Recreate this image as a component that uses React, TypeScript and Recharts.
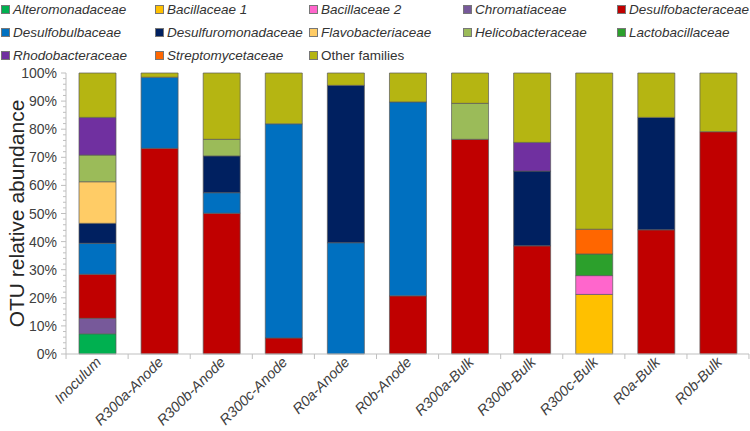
import { BarChart, Bar, XAxis, YAxis } from 'recharts'

const categories = [
    'Inoculum',
    'R300a-Anode',
    'R300b-Anode',
    'R300c-Anode',
    'R0a-Anode',
    'R0b-Anode',
    'R300a-Bulk',
    'R300b-Bulk',
    'R300c-Bulk',
    'R0a-Bulk',
    'R0b-Bulk',
]

// percent of OTUs, one value per category
const alteromonadaceae = [7.2, 0, 0, 0, 0, 0, 0, 0, 0, 0, 0]
const bacillaceae1 = [0, 0, 0, 0, 0, 0, 0, 0, 21.2, 0, 0]
const bacillaceae2 = [0, 0, 0, 0, 0, 0, 0, 0, 6.7, 0, 0]
const chromatiaceae = [5.5, 0, 0, 0, 0, 0, 0, 0, 0, 0, 0]
const desulfobacteraceae = [15.7, 73.2, 50.1, 5.7, 0, 20.7, 76.4, 38.5, 0, 44.2, 79.1]
const desulfobulbaceae = [11, 25.3, 7.3, 76.2, 39.6, 69, 0, 0, 0, 0, 0]
const desulfuromonadaceae = [7.1, 0, 13.1, 0, 56, 0, 0, 26.6, 0, 40, 0]
const flavobacteriaceae = [14.8, 0, 0, 0, 0, 0, 0, 0, 0, 0, 0]
const helicobacteraceae = [9.5, 0, 5.9, 0, 0, 0, 12.8, 0, 0, 0, 0]
const lactobacillaceae = [0, 0, 0, 0, 0, 0, 0, 0, 7.7, 0, 0]
const rhodobacteraceae = [13.4, 0, 0, 0, 0, 0, 0, 10.2, 0, 0, 0]
const streptomycetaceae = [0, 0, 0, 0, 0, 0, 0, 0, 8.8, 0, 0]
const otherFamilies = [15.8, 1.5, 23.6, 18.1, 4.4, 10.3, 10.8, 24.7, 55.6, 15.8, 20.9]

const yTicks = Array.from({ length: 51 }, (_, i) => i * 2)

const series = [
    { key: 'alteromonadaceae', name: 'Alteromonadaceae', values: alteromonadaceae, color: '#00B050', italic: true },
    { key: 'bacillaceae1', name: 'Bacillaceae 1', values: bacillaceae1, color: '#FFC000', italic: true },
    { key: 'bacillaceae2', name: 'Bacillaceae 2', values: bacillaceae2, color: '#FF66CC', italic: true },
    { key: 'chromatiaceae', name: 'Chromatiaceae', values: chromatiaceae, color: '#77599A', italic: true },
    { key: 'desulfobacteraceae', name: 'Desulfobacteraceae', values: desulfobacteraceae, color: '#C00000', italic: true },
    { key: 'desulfobulbaceae', name: 'Desulfobulbaceae', values: desulfobulbaceae, color: '#0070C0', italic: true },
    { key: 'desulfuromonadaceae', name: 'Desulfuromonadaceae', values: desulfuromonadaceae, color: '#002060', italic: true },
    { key: 'flavobacteriaceae', name: 'Flavobacteriaceae', values: flavobacteriaceae, color: '#FFCC66', italic: true },
    { key: 'helicobacteraceae', name: 'Helicobacteraceae', values: helicobacteraceae, color: '#9BBB59', italic: true },
    { key: 'lactobacillaceae', name: 'Lactobacillaceae', values: lactobacillaceae, color: '#2CA02C', italic: true },
    { key: 'rhodobacteraceae', name: 'Rhodobacteraceae', values: rhodobacteraceae, color: '#7030A0', italic: true },
    { key: 'streptomycetaceae', name: 'Streptomycetaceae', values: streptomycetaceae, color: '#FF6600', italic: true },
    { key: 'other', name: 'Other families', values: otherFamilies, color: '#B5B512', italic: false },
]

const data = categories.map((name, i) => {
    const row: Record<string, string | number> = { name }
    series.forEach((s) => {
        row[s.key] = s.values[i]
    })
    return row
})

const FONT = '"Liberation Sans", Arial, sans-serif'
const AXIS_COLOR = '#BFBFBF'

function YTick(props: any) {
    const { x, y, payload } = props
    const major = payload.value % 10 === 0
    return (
        <g>
            <line x1={x - (major ? 5 : 3)} x2={x} y1={y} y2={y} stroke={AXIS_COLOR} />
            {major && (
                <text x={x - 9} y={y} dy={5} textAnchor='end' fontSize={14} fill='#404040' fontFamily={FONT}>
                    {payload.value}%
                </text>
            )}
        </g>
    )
}

function XTick(props: any) {
    const { x, y, payload, index } = props
    const half = 31
    const tx = x + 5
    const ty = y + 9
    return (
        <g>
            <line x1={x - half} x2={x - half} y1={y} y2={y + 5} stroke={AXIS_COLOR} />
            {index === categories.length - 1 && (
                <line x1={x + half} x2={x + half} y1={y} y2={y + 5} stroke={AXIS_COLOR} />
            )}
            <text
                x={tx}
                y={ty}
                textAnchor='end'
                fontSize={14.5}
                fontStyle='italic'
                fill='#404040'
                fontFamily={FONT}
                transform={`rotate(-45, ${tx}, ${ty})`}
            >
                {payload.value}
            </text>
        </g>
    )
}

function ChartLegend() {
    return (
        <div
            style={{
                position: 'absolute',
                left: 1,
                top: -2,
                width: 770,
                display: 'grid',
                gridTemplateColumns: 'repeat(5, 154px)',
                gridAutoRows: '23px',
                fontFamily: FONT,
                fontSize: 13.5,
                color: '#333',
                lineHeight: '20px',
            }}
        >
            {series.map((s) => (
                <div key={s.key} style={{ display: 'flex', alignItems: 'center', whiteSpace: 'nowrap' }}>
                    <span
                        style={{
                            display: 'inline-block',
                            width: 7,
                            height: 7,
                            background: s.color,
                            border: '1px solid #777',
                            marginRight: 3,
                        }}
                    />
                    <span style={{ fontStyle: s.italic ? 'italic' : 'normal' }}>{s.name}</span>
                </div>
            ))}
        </div>
    )
}

export default function App() {
    return (
        <div style={{ position: 'absolute', left: 0, top: 0, width: 750, height: 431, background: '#fff' }}>
            <BarChart
                width={750}
                height={431}
                data={data}
                barSize={37}
                margin={{ top: 73, right: 1, left: 0, bottom: 0 }}
            >
                <XAxis
                    dataKey='name'
                    height={77}
                    interval={0}
                    stroke={AXIS_COLOR}
                    tickLine={false}
                    tickSize={0}
                    tickMargin={0}
                    tick={<XTick />}
                />
                <YAxis
                    width={66}
                    domain={[0, 100]}
                    ticks={yTicks}
                    interval={0}
                    stroke={AXIS_COLOR}
                    tickLine={false}
                    tickSize={0}
                    tickMargin={0}
                    tick={<YTick />}
                    label={{
                        content: (p: any) => {
                            const vb = p.viewBox
                            const cy = vb.y + vb.height / 2
                            return (
                                <text
                                    x={24}
                                    y={cy}
                                    textAnchor='middle'
                                    fontSize={21}
                                    fill='#262626'
                                    fontFamily={FONT}
                                    transform={`rotate(-90, 24, ${cy})`}
                                >
                                    OTU relative abundance
                                </text>
                            )
                        },
                    }}
                />
                {series.map((s) => (
                    <Bar
                        key={s.key}
                        dataKey={s.key}
                        name={s.name}
                        stackId='a'
                        fill={s.color}
                        stroke='#5a5a5a'
                        strokeWidth={0.7}
                        isAnimationActive={false}
                    />
                ))}
            </BarChart>
            <ChartLegend />
        </div>
    )
}
